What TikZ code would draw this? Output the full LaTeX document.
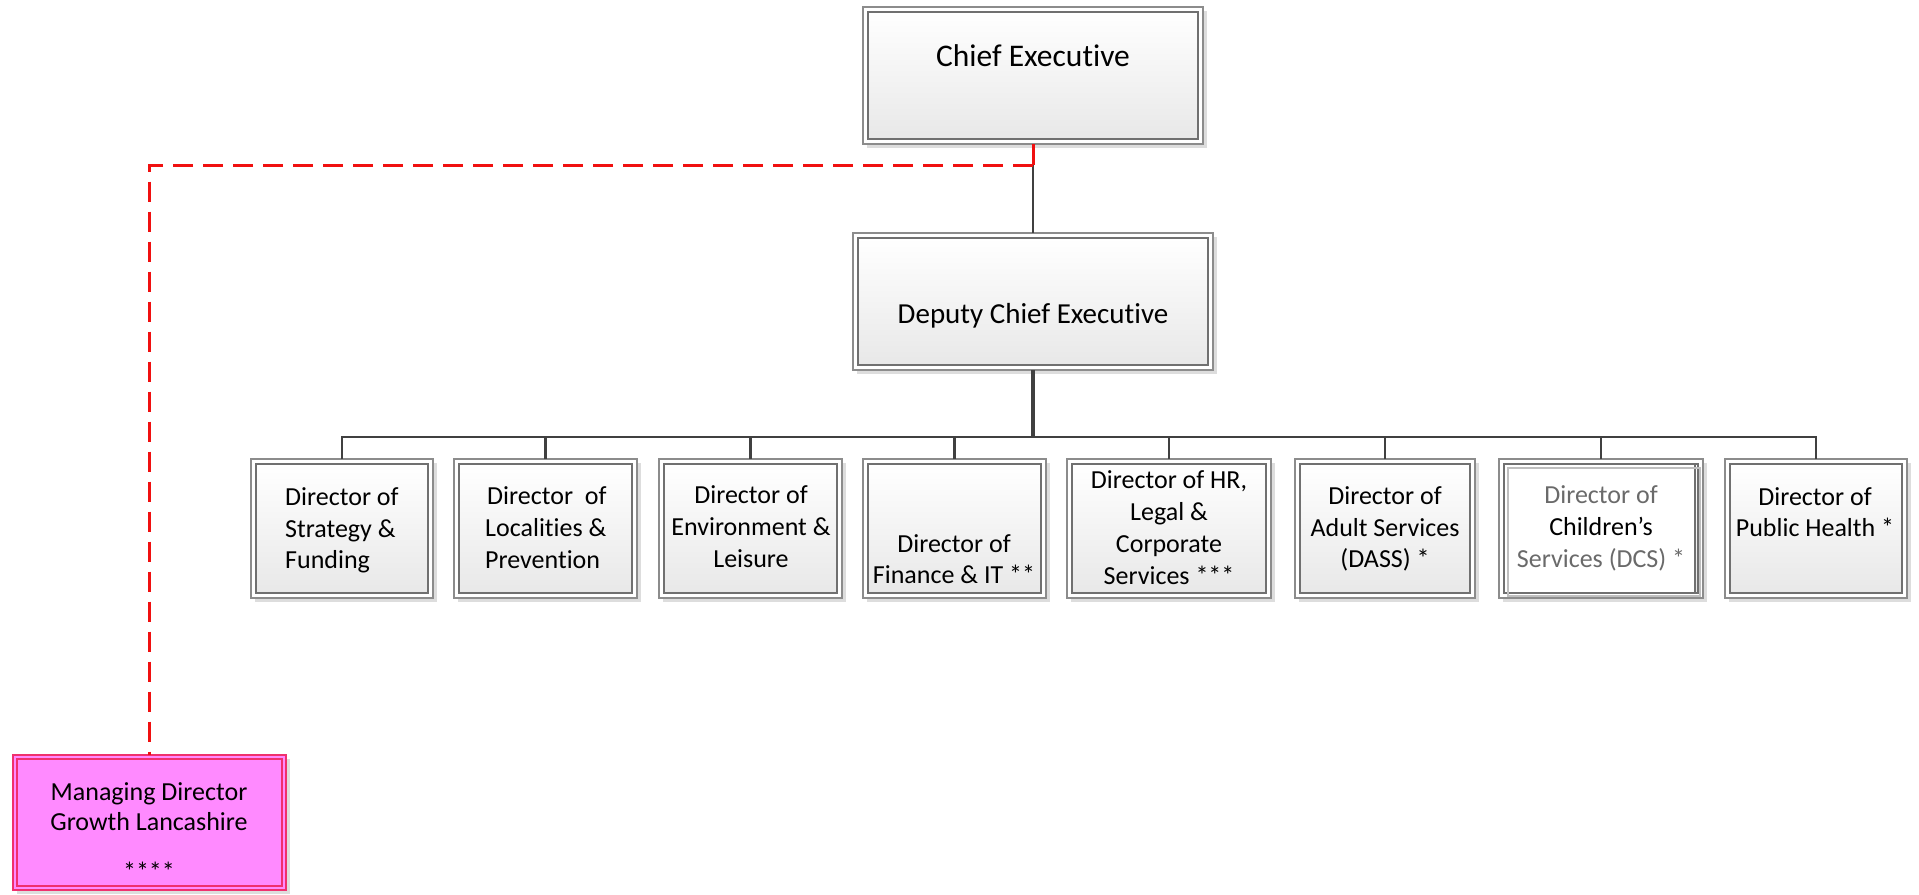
\documentclass[tikz,border=0pt]{standalone}
\usepackage{fontspec}
\setmainfont{Carlito}[Ligatures={NoCommon}]
\usetikzlibrary{calc,fit}
\definecolor{connc}{HTML}{404040}
\definecolor{outerc}{HTML}{8C8C8C}
\definecolor{innerc}{HTML}{707070}
\definecolor{shadowc}{HTML}{DDDDDD}
\definecolor{reddash}{HTML}{F01010}
\definecolor{pinkfill}{HTML}{FF8AFF}
\definecolor{pinkline}{HTML}{F0306E}
\definecolor{fadetext}{HTML}{6A6A6A}
\tikzset{
  boxshadow/.style={fill=shadowc},
  outerbox/.style={draw=outerc, line width=1.3, fill=white, inner sep=0, outer sep=0},
  innerbox/.style={draw=innerc, line width=1.3, top color=white, bottom color=black!9},
  conn/.style={draw=connc, line width=2.5},
  thickconn/.style={draw=connc, line width=3.5},
  redsolid/.style={draw=reddash, line width=3},
  reddashed/.style={draw=reddash, line width=3, dash pattern=on 20 off 10},
  txt/.style={anchor=base, inner sep=0, font=\fontsize{26}{31}\selectfont},
  bigtxt/.style={anchor=base, inner sep=0, font=\fontsize{31.5}{37}\selectfont},
  midtxt/.style={anchor=base, inner sep=0, font=\fontsize{29}{35}\selectfont},
}
\newcommand\orgbox[5]{%
  \fill[boxshadow] (#2+4,#3+4) rectangle (#4+4,#5+4);
  \coordinate (#1-nw) at (#2,#3);
  \coordinate (#1-se) at (#4,#5);
  \node[outerbox, fit=(#1-nw)(#1-se)] (#1) {};
  \draw[innerbox] (#2+5,#3+5) rectangle (#4-5,#5-5);
}
\begin{document}
\begin{tikzpicture}[x=1pt,y=-1pt]
\useasboundingbox[fill=white] (0,0) rectangle (1919,894);

% boxes
\orgbox{chief}{863}{7}{1203}{144}
\orgbox{dep}{853}{233}{1213}{370}
\orgbox{d1}{251}{459}{433}{598}
\orgbox{d2}{454}{459}{637}{598}
\orgbox{d3}{659}{459}{842}{598}
\orgbox{d4}{863}{459}{1046}{598}
\orgbox{d5}{1067}{459}{1271}{598}
\orgbox{d6}{1295}{459}{1475}{598}
\orgbox{d7}{1499}{459}{1703}{598}
\orgbox{d8}{1725}{459}{1907}{598}
% ghosted inner frame of the DCS box
\filldraw[fill=white, draw=innerc, line width=1.3] (1499+5,459+5) rectangle (1703-8,598-5);
\draw[innerc!45, line width=1.3] (1499+9,459+9) rectangle (1703-3,598-2);

% managing director box
\fill[boxshadow] (13+4,755+4) rectangle (286+4,890+4);
\coordinate (md-nw) at (13,755);
\coordinate (md-se) at (286,890);
\node[draw=pinkline, line width=1.3, fill=pinkfill, inner sep=0, outer sep=0, fit=(md-nw)(md-se)] (md) {};
\draw[pinkline, line width=1.3] (13+4,755+4) rectangle (286-4,890-4);

% connectors
\coordinate (rc) at (chief.south |- 0,165);
\coordinate (bus) at (chief.south |- 0,437);
\draw[conn] (rc) -- (rc |- dep.north);
\draw[redsolid] (chief.south) -- (rc);
\draw[reddashed] (rc) -| (md.north);
\draw[thickconn] (bus |- dep.south) -- (bus);
\foreach \d in {d1,d2,d3,d4,d5,d6,d7,d8}{
  \draw[conn] (\d.north) |- (bus);
}

% texts
\node[bigtxt] (tchief) at (1033,66) {Chief Executive};
\node[midtxt] (tdep) at (1033,323) {Deputy Chief Executive};

\node[txt, anchor=base west] (t1a) at (285,505) {Director of};
\node[txt, anchor=base west] (t1b) at (285,537) {Strategy \&};
\node[txt, anchor=base west] (t1c) at (285,568) {Funding};

\node[txt, anchor=base west] (t2a) at (487,504) {Director\ \ of};
\node[txt, anchor=base west] (t2b) at (485,536) {Localities \&};
\node[txt, anchor=base west] (t2c) at (485,568) {Prevention};

\node[txt] (t3a) at (751,503) {Director of};
\node[txt] (t3b) at (751,535) {Environment \&};
\node[txt] (t3c) at (751,567) {Leisure};

\node[txt] (t4a) at (954,552) {Director of};
\node[txt] (t4b) at (954,583) {Finance \& IT **};

\node[txt] (t5a) at (1169,488) {Director of HR,};
\node[txt] (t5b) at (1169,520) {Legal \&};
\node[txt] (t5c) at (1169,552) {Corporate};
\node[txt] (t5d) at (1169,584) {Services ***};

\node[txt] (t6a) at (1385,504) {Director of};
\node[txt] (t6b) at (1385,536) {Adult Services};
\node[txt] (t6c) at (1385,567) {(DASS) *};

\node[txt, text=fadetext] (t7a) at (1601,503) {Director of};
\node[txt] (t7b) at (1601,535) {Children’s};
\node[txt, text=fadetext] (t7c) at (1601,567) {Services (DCS) *};

\node[txt] (t8a) at (1815,505) {Director of};
\node[txt] (t8b) at (1815,536) {Public Health *};

\node[txt] (tmda) at (149,800) {Managing Director};
\node[txt] (tmdb) at (149,830) {Growth Lancashire};
\node[txt] (tmdc) at (149,880) {****};
\end{tikzpicture}
\end{document}
